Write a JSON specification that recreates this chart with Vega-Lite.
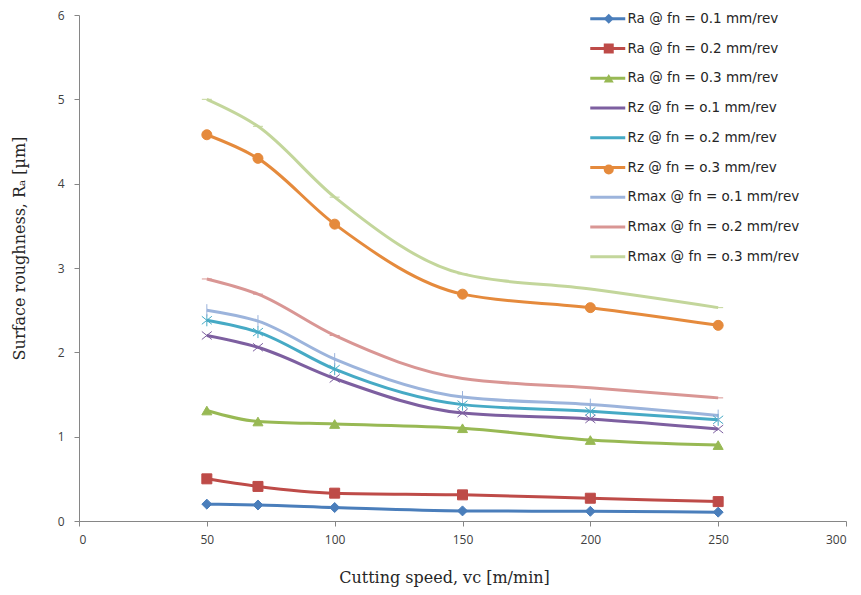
{
  "$schema": "https://vega.github.io/schema/vega-lite/v6.json",
  "width": 767,
  "height": 506,
  "autosize": {"type": "none"},
  "padding": {"left": 79, "top": 15, "right": 15, "bottom": 74},
  "background": "white",
  "config": {
    "view": {"stroke": null},
    "axis": {
      "grid": false,
      "domainColor": "#868686",
      "tickColor": "#868686",
      "tickSize": 5,
      "labelFont": "Open Sans",
      "labelFontSize": 12,
      "labelColor": "#404040",
      "titleFont": "DejaVu Serif",
      "titleFontSize": 16,
      "titleFontWeight": "normal",
      "titleColor": "#262626"
    }
  },
  "data": {
    "values": [
      {"s": "Ra @ fn = 0.1 mm/rev", "v": 50, "r": 0.20},
      {"s": "Ra @ fn = 0.1 mm/rev", "v": 70, "r": 0.19},
      {"s": "Ra @ fn = 0.1 mm/rev", "v": 100, "r": 0.16},
      {"s": "Ra @ fn = 0.1 mm/rev", "v": 150, "r": 0.12},
      {"s": "Ra @ fn = 0.1 mm/rev", "v": 200, "r": 0.115},
      {"s": "Ra @ fn = 0.1 mm/rev", "v": 250, "r": 0.105},
      {"s": "Ra @ fn = 0.2 mm/rev", "v": 50, "r": 0.50},
      {"s": "Ra @ fn = 0.2 mm/rev", "v": 70, "r": 0.41},
      {"s": "Ra @ fn = 0.2 mm/rev", "v": 100, "r": 0.33},
      {"s": "Ra @ fn = 0.2 mm/rev", "v": 150, "r": 0.31},
      {"s": "Ra @ fn = 0.2 mm/rev", "v": 200, "r": 0.27},
      {"s": "Ra @ fn = 0.2 mm/rev", "v": 250, "r": 0.23},
      {"s": "Ra @ fn = 0.3 mm/rev", "v": 50, "r": 1.31},
      {"s": "Ra @ fn = 0.3 mm/rev", "v": 70, "r": 1.18},
      {"s": "Ra @ fn = 0.3 mm/rev", "v": 100, "r": 1.15},
      {"s": "Ra @ fn = 0.3 mm/rev", "v": 150, "r": 1.10},
      {"s": "Ra @ fn = 0.3 mm/rev", "v": 200, "r": 0.96},
      {"s": "Ra @ fn = 0.3 mm/rev", "v": 250, "r": 0.90},
      {"s": "Rz @ fn = o.1 mm/rev", "v": 50, "r": 2.20},
      {"s": "Rz @ fn = o.1 mm/rev", "v": 70, "r": 2.06},
      {"s": "Rz @ fn = o.1 mm/rev", "v": 100, "r": 1.69},
      {"s": "Rz @ fn = o.1 mm/rev", "v": 150, "r": 1.28},
      {"s": "Rz @ fn = o.1 mm/rev", "v": 200, "r": 1.21},
      {"s": "Rz @ fn = o.1 mm/rev", "v": 250, "r": 1.09},
      {"s": "Rz @ fn = o.2 mm/rev", "v": 50, "r": 2.38},
      {"s": "Rz @ fn = o.2 mm/rev", "v": 70, "r": 2.24},
      {"s": "Rz @ fn = o.2 mm/rev", "v": 100, "r": 1.80},
      {"s": "Rz @ fn = o.2 mm/rev", "v": 150, "r": 1.38},
      {"s": "Rz @ fn = o.2 mm/rev", "v": 200, "r": 1.30},
      {"s": "Rz @ fn = o.2 mm/rev", "v": 250, "r": 1.20},
      {"s": "Rz @ fn = o.3 mm/rev", "v": 50, "r": 4.58},
      {"s": "Rz @ fn = o.3 mm/rev", "v": 70, "r": 4.30},
      {"s": "Rz @ fn = o.3 mm/rev", "v": 100, "r": 3.52},
      {"s": "Rz @ fn = o.3 mm/rev", "v": 150, "r": 2.69},
      {"s": "Rz @ fn = o.3 mm/rev", "v": 200, "r": 2.53},
      {"s": "Rz @ fn = o.3 mm/rev", "v": 250, "r": 2.32},
      {"s": "Rmax @ fn = o.1 mm/rev", "v": 50, "r": 2.50},
      {"s": "Rmax @ fn = o.1 mm/rev", "v": 70, "r": 2.37},
      {"s": "Rmax @ fn = o.1 mm/rev", "v": 100, "r": 1.92},
      {"s": "Rmax @ fn = o.1 mm/rev", "v": 150, "r": 1.47},
      {"s": "Rmax @ fn = o.1 mm/rev", "v": 200, "r": 1.38},
      {"s": "Rmax @ fn = o.1 mm/rev", "v": 250, "r": 1.25},
      {"s": "Rmax @ fn = o.2 mm/rev", "v": 50, "r": 2.87},
      {"s": "Rmax @ fn = o.2 mm/rev", "v": 70, "r": 2.69},
      {"s": "Rmax @ fn = o.2 mm/rev", "v": 100, "r": 2.20},
      {"s": "Rmax @ fn = o.2 mm/rev", "v": 150, "r": 1.69},
      {"s": "Rmax @ fn = o.2 mm/rev", "v": 200, "r": 1.58},
      {"s": "Rmax @ fn = o.2 mm/rev", "v": 250, "r": 1.46},
      {"s": "Rmax @ fn = o.3 mm/rev", "v": 50, "r": 5.00},
      {"s": "Rmax @ fn = o.3 mm/rev", "v": 70, "r": 4.68},
      {"s": "Rmax @ fn = o.3 mm/rev", "v": 100, "r": 3.84},
      {"s": "Rmax @ fn = o.3 mm/rev", "v": 150, "r": 2.93},
      {"s": "Rmax @ fn = o.3 mm/rev", "v": 200, "r": 2.75},
      {"s": "Rmax @ fn = o.3 mm/rev", "v": 250, "r": 2.53}
    ]
  },
  "encoding": {
    "x": {
      "field": "v", "type": "quantitative",
      "scale": {"domain": [0, 300], "nice": false},
      "axis": {"values": [0, 50, 100, 150, 200, 250, 300], "title": "Cutting speed, vc [m/min]", "titlePadding": 24, "labelPadding": 8, "titleX": 365}
    },
    "y": {
      "field": "r", "type": "quantitative",
      "scale": {"domain": [0, 6], "nice": false},
      "axis": {"values": [0, 1, 2, 3, 4, 5, 6], "title": "Surface roughness, Rₐ [µm]", "titlePadding": 30, "labelPadding": 10, "titleY": 233}
    }
  },
  "layer": [
    {
      "mark": {"type": "line", "interpolate": "monotone", "strokeWidth": 3},
      "encoding": {
        "stroke": {
          "field": "s", "type": "nominal",
          "sort": null,
          "scale": {
            "range": ["#4a7ebb", "#be4b48", "#98b954", "#7d5fa0", "#46aac5", "#e58a3c", "#9cb4dc", "#d99694", "#c3d69b"]
          },
          "legend": {
            "title": null,
            "orient": "none",
            "legendX": 522,
            "legendY": -3,
            "labelFont": "DejaVu Sans",
            "labelFontSize": 13.5,
            "labelColor": "#262626",
            "labelLimit": 300,
            "rowPadding": 14.75,
            "symbolType": "M-3.5,0L3.5,0",
            "symbolSize": 100,
            "symbolStrokeWidth": 3,
            "labelOffset": 13
          }
        }
      }
    },
    {
      "mark": {"type": "point", "filled": true, "size": 100, "strokeWidth": 1, "opacity": 1},
      "encoding": {
        "stroke": {"field": "s", "type": "nominal", "sort": null, "legend": null},
        "color": {
          "field": "s", "type": "nominal",
          "scale": {
            "domain": ["Ra @ fn = 0.1 mm/rev", "Ra @ fn = 0.2 mm/rev", "Ra @ fn = 0.3 mm/rev", "Rz @ fn = o.1 mm/rev", "Rz @ fn = o.2 mm/rev", "Rz @ fn = o.3 mm/rev", "Rmax @ fn = o.1 mm/rev", "Rmax @ fn = o.2 mm/rev", "Rmax @ fn = o.3 mm/rev"],
            "range": ["#4a7ebb", "#be4b48", "#98b954", "#7d5fa0", "#46aac5", "#e58a3c", "#9cb4dc", "#d99694", "#c3d69b"]
          },
          "legend": {
            "title": null,
            "orient": "none",
            "legendX": 523,
            "legendY": -3,
            "labelFont": "DejaVu Sans",
            "labelFontSize": 13.5,
            "labelExpr": "''",
            "labelLimit": 300,
            "rowPadding": 14.75,
            "symbolSize": 100,
            "symbolStrokeWidth": 1,
            "symbolOpacity": 1
          }
        },
        "shape": {
          "field": "s", "type": "nominal",
          "scale": {
            "domain": ["Ra @ fn = 0.1 mm/rev", "Ra @ fn = 0.2 mm/rev", "Ra @ fn = 0.3 mm/rev", "Rz @ fn = o.1 mm/rev", "Rz @ fn = o.2 mm/rev", "Rz @ fn = o.3 mm/rev", "Rmax @ fn = o.1 mm/rev", "Rmax @ fn = o.2 mm/rev", "Rmax @ fn = o.3 mm/rev"],
            "range": ["diamond", "square", "triangle-up", "M-1,-0.8L1,0.8M-1,0.8L1,-0.8", "M-1,-0.8L1,0.8M-1,0.8L1,-0.8M0,-1.2L0,1.2", "circle", "M0,-1.2L0,1.2", "stroke", "stroke"]
          },
          "legend": {
            "title": null,
            "orient": "none",
            "legendX": 523,
            "legendY": -3,
            "labelFont": "DejaVu Sans",
            "labelFontSize": 13.5,
            "labelExpr": "''",
            "labelLimit": 300,
            "rowPadding": 14.75,
            "symbolSize": 100,
            "symbolStrokeWidth": 1,
            "symbolOpacity": 1
          }
        }
      }
    }
  ]
}
